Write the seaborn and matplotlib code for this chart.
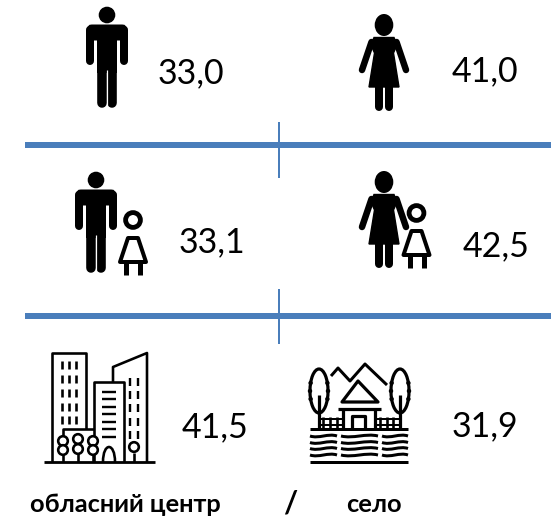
import matplotlib
matplotlib.use('Agg')
import matplotlib.pyplot as plt
from matplotlib.patches import Circle, Ellipse, Polygon, Rectangle, FancyBboxPatch, PathPatch
from matplotlib.path import Path
import seaborn as sns

# Values shown next to the icons
values = [33.0, 41.0, 33.1, 42.5, 41.5, 31.9]
captions = ['обласний центр', '/', 'село']

value_pos = [(191, 73), (485, 71), (212, 242), (496, 246), (215, 427), (485, 426)]

BLUE = '#4a7ebb'
PX = 0.72  # one pixel in points at dpi 100

sns.set_theme(style='white')
plt.rcParams['font.family'] = ['Lato', 'Open Sans', 'DejaVu Sans']

fig = plt.figure(figsize=(5.51, 5.16), dpi=100)
ax = fig.add_axes([0, 0, 1, 1])
ax.set_xlim(0, 551)
ax.set_ylim(516, 0)
ax.axis('off')


def stroke(xs, ys, w=2.6, cap='butt', color='black'):
    ax.plot(xs, ys, color=color, lw=w * PX, solid_capstyle=cap, solid_joinstyle='round')


def draw_man(x, y):
    ax.add_patch(Circle((x, y), 8.3, color='black', lw=0))
    ax.add_patch(FancyBboxPatch((x - 17, y + 13), 34, 9, boxstyle='round,pad=0,rounding_size=2',
                                color='black', lw=7 * PX))
    for dx in (-16.6, 16.6):
        stroke([x + dx, x + dx], [y + 15, y + 46], 8, 'round')
    ax.add_patch(Rectangle((x - 10.2, y + 12), 20.4, 46, color='black', lw=0))
    for dx in (-5.4, 5.4):
        stroke([x + dx, x + dx], [y + 50, y + 88], 9.6, 'round')
    stroke([x, x], [y + 55, y + 93], 1.2, color='white')


def draw_woman(x, y):
    ax.add_patch(Ellipse((x, y), 18.6, 22, color='black', lw=0))
    shape = [(x - 10, y + 12.5), (x + 10, y + 12.5), (x + 13, y + 20), (x + 9.5, y + 28),
             (x + 15, y + 62), (x - 15, y + 62), (x - 9.5, y + 28), (x - 13, y + 20)]
    ax.add_patch(Polygon(shape, closed=True, color='black', lw=1))
    for dx in (-1, 1):
        stroke([x + dx * 12.5, x + dx * 22], [y + 17, y + 45], 6.5, 'round')
    for dx in (-5, 5):
        stroke([x + dx, x + dx], [y + 60, y + 81.5], 8, 'round')


def draw_child(x, y):
    ax.add_patch(Circle((x, y), 7.4, fill=False, ec='black', lw=4.8 * PX))
    shape = [(x - 5, y + 18), (x + 5, y + 18), (x + 13, y + 42), (x - 13, y + 42)]
    ax.add_patch(Polygon(shape, closed=True, fill=False, ec='black', lw=4 * PX, joinstyle='round'))
    for dx in (-7, 7):
        stroke([x + dx, x + dx], [y + 43, y + 55], 5)


def draw_city():
    # left tower
    stroke([52, 52, 86, 86], [462, 353, 353, 429])
    for wx in (62, 69, 76):
        for wy in (365, 379, 393, 407, 420):
            stroke([wx, wx], [wy - 4, wy + 4], 2.6)
    # low block
    stroke([63, 63, 94], [440, 429, 429])
    # middle block
    stroke([94, 94, 124, 124], [462, 382, 382, 462])
    for wy in (392, 399, 407, 414, 422, 429, 437):
        stroke([102, 116], [wy, wy], 2.4)
    ax.add_patch(PathPatch(Path([(103, 462), (103, 442), (115, 442), (115, 462)],
                                [Path.MOVETO, Path.CURVE4, Path.CURVE4, Path.CURVE4]),
                           fill=False, ec='black', lw=2.6 * PX))
    # right tower
    stroke([113, 113, 147, 147], [382, 367, 353, 462])
    for wx in (130, 138):
        for wy in (382, 395, 408, 422, 435):
            stroke([wx, wx], [wy - 4, wy + 4], 2.4)
    # trees
    for tx, ty in ((63, 441), (63, 450), (78, 439), (78, 449), (93, 441), (93, 450), (134, 447)):
        ax.add_patch(Circle((tx, ty), 4.8, fc='white', ec='black', lw=2.6 * PX, zorder=3))
    for tx in (63, 78, 93, 134):
        stroke([tx, tx], [453, 462])
    stroke([44, 155], [462, 462], 2.8)


def draw_village():
    stroke([331, 338, 350, 365, 387], [376, 368, 381, 364, 385], 3)
    for tx in (319, 400):
        ax.add_patch(Ellipse((tx, 391), 18, 44, fill=False, ec='black', lw=3.2 * PX))
        # scalloped crown
        for dx, dy in ((-8.4, -8), (-9, 0), (-8.4, 8), (8.4, -8), (9, 0), (8.4, 8)):
            ax.add_patch(Circle((tx + dx, 391 + dy), 2.2, color='black', lw=0))
        stroke([tx, tx], [395, 429], 3.2)
    # house
    ax.add_patch(Polygon([(342, 402), (358, 381), (378, 402)], closed=True, fc='white', ec='black',
                         lw=3.2 * PX, joinstyle='round'))
    stroke([338, 381], [409, 409], 3.2)
    stroke([343, 343], [409, 429], 3.2)
    stroke([375, 375], [409, 429], 3.2)
    stroke([352, 352, 365, 365], [429, 416, 416, 429], 3.2)
    # fences
    for px_ in (323, 330, 337, 380, 387, 393):
        stroke([px_, px_], [417, 429], 2.6)
    stroke([318, 343], [419, 419], 2)
    stroke([318, 343], [425, 425], 2)
    stroke([375, 402], [419, 419], 2)
    stroke([375, 402], [425, 425], 2)
    stroke([310, 408], [429, 429], 3)
    # water
    for wy in (436, 442.5, 448.5, 455):
        for x0, x1 in ((310, 337), (341, 378), (382, 408)):
            mid = (x1 - x0) / 3
            ax.add_patch(PathPatch(Path([(x0, wy), (x0 + mid, wy + 3), (x0 + 2 * mid, wy - 3), (x1, wy)],
                                        [Path.MOVETO, Path.CURVE4, Path.CURVE4, Path.CURVE4]),
                                   fill=False, ec='black', lw=3 * PX))
    stroke([310, 408], [462, 462], 3)


# Dividers
for y0 in (145, 316):
    sns.lineplot(x=[25, 551], y=[y0, y0], color=BLUE, lw=6 * PX, ax=ax, errorbar=None, sort=False,
                 estimator=None, solid_capstyle='butt')
for y0, y1 in ((122, 178), (289, 344)):
    sns.lineplot(x=[278.7, 278.7], y=[y0, y1], color=BLUE, lw=2 * PX, ax=ax, errorbar=None,
                 sort=False, estimator=None, solid_capstyle='butt')

draw_man(107, 15)
draw_woman(384, 25)
draw_man(96, 180)
draw_child(133, 220)
draw_woman(384, 182)
draw_child(416.5, 213)
draw_city()
draw_village()

for val, (tx, ty) in zip(values, value_pos):
    ax.text(tx, ty, f'{val:.1f}'.replace('.', ','), fontsize=24.5, color='black', ha='center', va='center')

ax.text(125, 504, captions[0], fontsize=18.3, fontweight='bold', color='black', ha='center', va='center')
ax.text(290, 503, captions[1], fontsize=22, fontweight='bold', color='black', ha='center', va='center')
ax.text(374, 504, captions[2], fontsize=18.3, fontweight='bold', color='black', ha='center', va='center')

ax.set_xlim(0, 551)
ax.set_ylim(516, 0)
fig.savefig('out.png', dpi=100)
